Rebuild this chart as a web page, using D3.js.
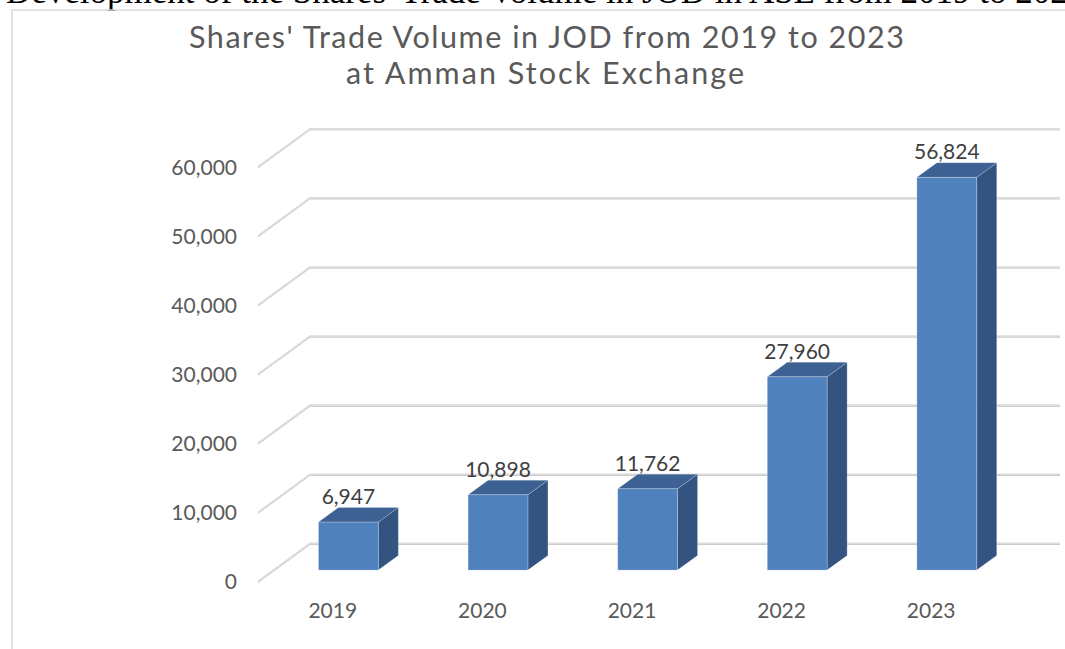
<!DOCTYPE html>
<html><head><meta charset="utf-8">
<script src="https://cdn.jsdelivr.net/npm/d3@7"></script>
<style>
html,body{margin:0;padding:0;background:#fff;overflow:hidden;}
svg{display:block;}
</style></head>
<body>
<svg id="chart" width="1065" height="649"></svg>
<script>
const heading = "Development of the Shares' Trade Volume in JOD in ASE from 2019 to 2023";
const titleLines = ["Shares' Trade Volume in JOD from 2019 to 2023", "at Amman Stock Exchange"];
const years = ["2019", "2020", "2021", "2022", "2023"];
const volumes = [6947, 10898, 11762, 27960, 56824];
const yTicks = [0, 10000, 20000, 30000, 40000, 50000, 60000];

const svg = d3.select("#chart");
const font = "Lato, 'Open Sans', sans-serif";

// heading (clipped at top of page, as in the source document)
svg.append("text").attr("x", 6).attr("y", 3)
  .attr("font-family", "'Liberation Serif','Times New Roman',serif")
  .attr("font-size", 35.0).attr("fill", "#000").text(heading);

// chart border
svg.append("rect").attr("x", 12).attr("y", 10).attr("width", 1100).attr("height", 700)
  .attr("fill", "none").attr("stroke", "#d9d9d9").attr("stroke-width", 1.5);

// title
svg.append("text").attr("x", 546.5).attr("y", 48).attr("text-anchor", "middle")
  .attr("font-family", font).attr("font-size", 30.5).attr("fill", "#595959")
  .attr("textLength", 715).attr("lengthAdjust", "spacing").text(titleLines[0]);
svg.append("text").attr("x", 545).attr("y", 83.5).attr("text-anchor", "middle")
  .attr("font-family", font).attr("font-size", 30.5).attr("fill", "#595959")
  .attr("textLength", 398).attr("lengthAdjust", "spacing").text(titleLines[1]);

// scales (front plane)
const y = d3.scaleLinear().domain([0, 60000]).range([581.5, 166.8]);
const x = d3.scaleBand().domain(years).range([258, 1006]).padding(0);
const depthX = 52, depthY = -38;   // full depth of the 3D box
const f1 = 0.3, f2 = 0.685;        // bar depth span (fraction)
const barW = x.bandwidth() * 0.4;
const fmt = d3.format(",");

// gridlines: diagonal side + back wall
const grid = svg.append("g");
yTicks.forEach(t => {
  const yf = y(t), yb = y(t) + depthY;
  const path = `M258,${yf}L${258 + depthX},${yb}L1060,${yb}`;
  grid.append("path").attr("d", path).attr("fill", "none")
    .attr("stroke", "#bdbdbd").attr("stroke-width", 1).attr("transform", "translate(0,1)");
  grid.append("path").attr("d", path).attr("fill", "none")
    .attr("stroke", "#dcdcdc").attr("stroke-width", 1.8);
});

// y labels
svg.append("g").selectAll("text").data(yTicks).join("text")
  .attr("x", 237).attr("y", d => y(d) + 7.8).attr("text-anchor", "end")
  .attr("font-family", font).attr("font-size", 21).attr("fill", "#595959")
  .text(d => fmt(d));

// bars
const bars = svg.append("g");
const h0 = y(0);
volumes.forEach((v, i) => {
  const cx = x(years[i]) + x.bandwidth() / 2 + depthX * f1;
  const by = h0 + depthY * f1;           // bottom of front face
  const ty = by - (h0 - y(v));          // top of front face
  const ddx = depthX * (f2 - f1), ddy = depthY * (f2 - f1);
  const xl = cx - barW / 2, xr = cx + barW / 2;
  bars.append("path").attr("d", `M${xr},${by}L${xr + ddx},${by + ddy}L${xr + ddx},${ty + ddy}L${xr},${ty}Z`)
    .attr("fill", "#335481").attr("stroke", "rgba(255,255,255,0.25)").attr("stroke-width", 0.8);
  bars.append("path").attr("d", `M${xl},${ty}L${xl + ddx},${ty + ddy}L${xr + ddx},${ty + ddy}L${xr},${ty}Z`)
    .attr("fill", "#3c6192").attr("stroke", "rgba(255,255,255,0.25)").attr("stroke-width", 0.8);
  bars.append("rect").attr("x", xl).attr("y", ty).attr("width", barW).attr("height", by - ty)
    .attr("fill", "#4f81bd").attr("stroke", "rgba(255,255,255,0.3)").attr("stroke-width", 0.8);
  bars.append("text").attr("x", cx).attr("y", ty + ddy - 3.5).attr("text-anchor", "middle")
    .attr("font-family", font).attr("font-size", 21).attr("fill", "#404040").text(fmt(v));
});

// category labels
svg.append("g").selectAll("text").data(years).join("text")
  .attr("x", d => x(d) + x.bandwidth() / 2).attr("y", 618).attr("text-anchor", "middle")
  .attr("font-family", font).attr("font-size", 21).attr("fill", "#595959").text(d => d);
</script>
</body></html>
